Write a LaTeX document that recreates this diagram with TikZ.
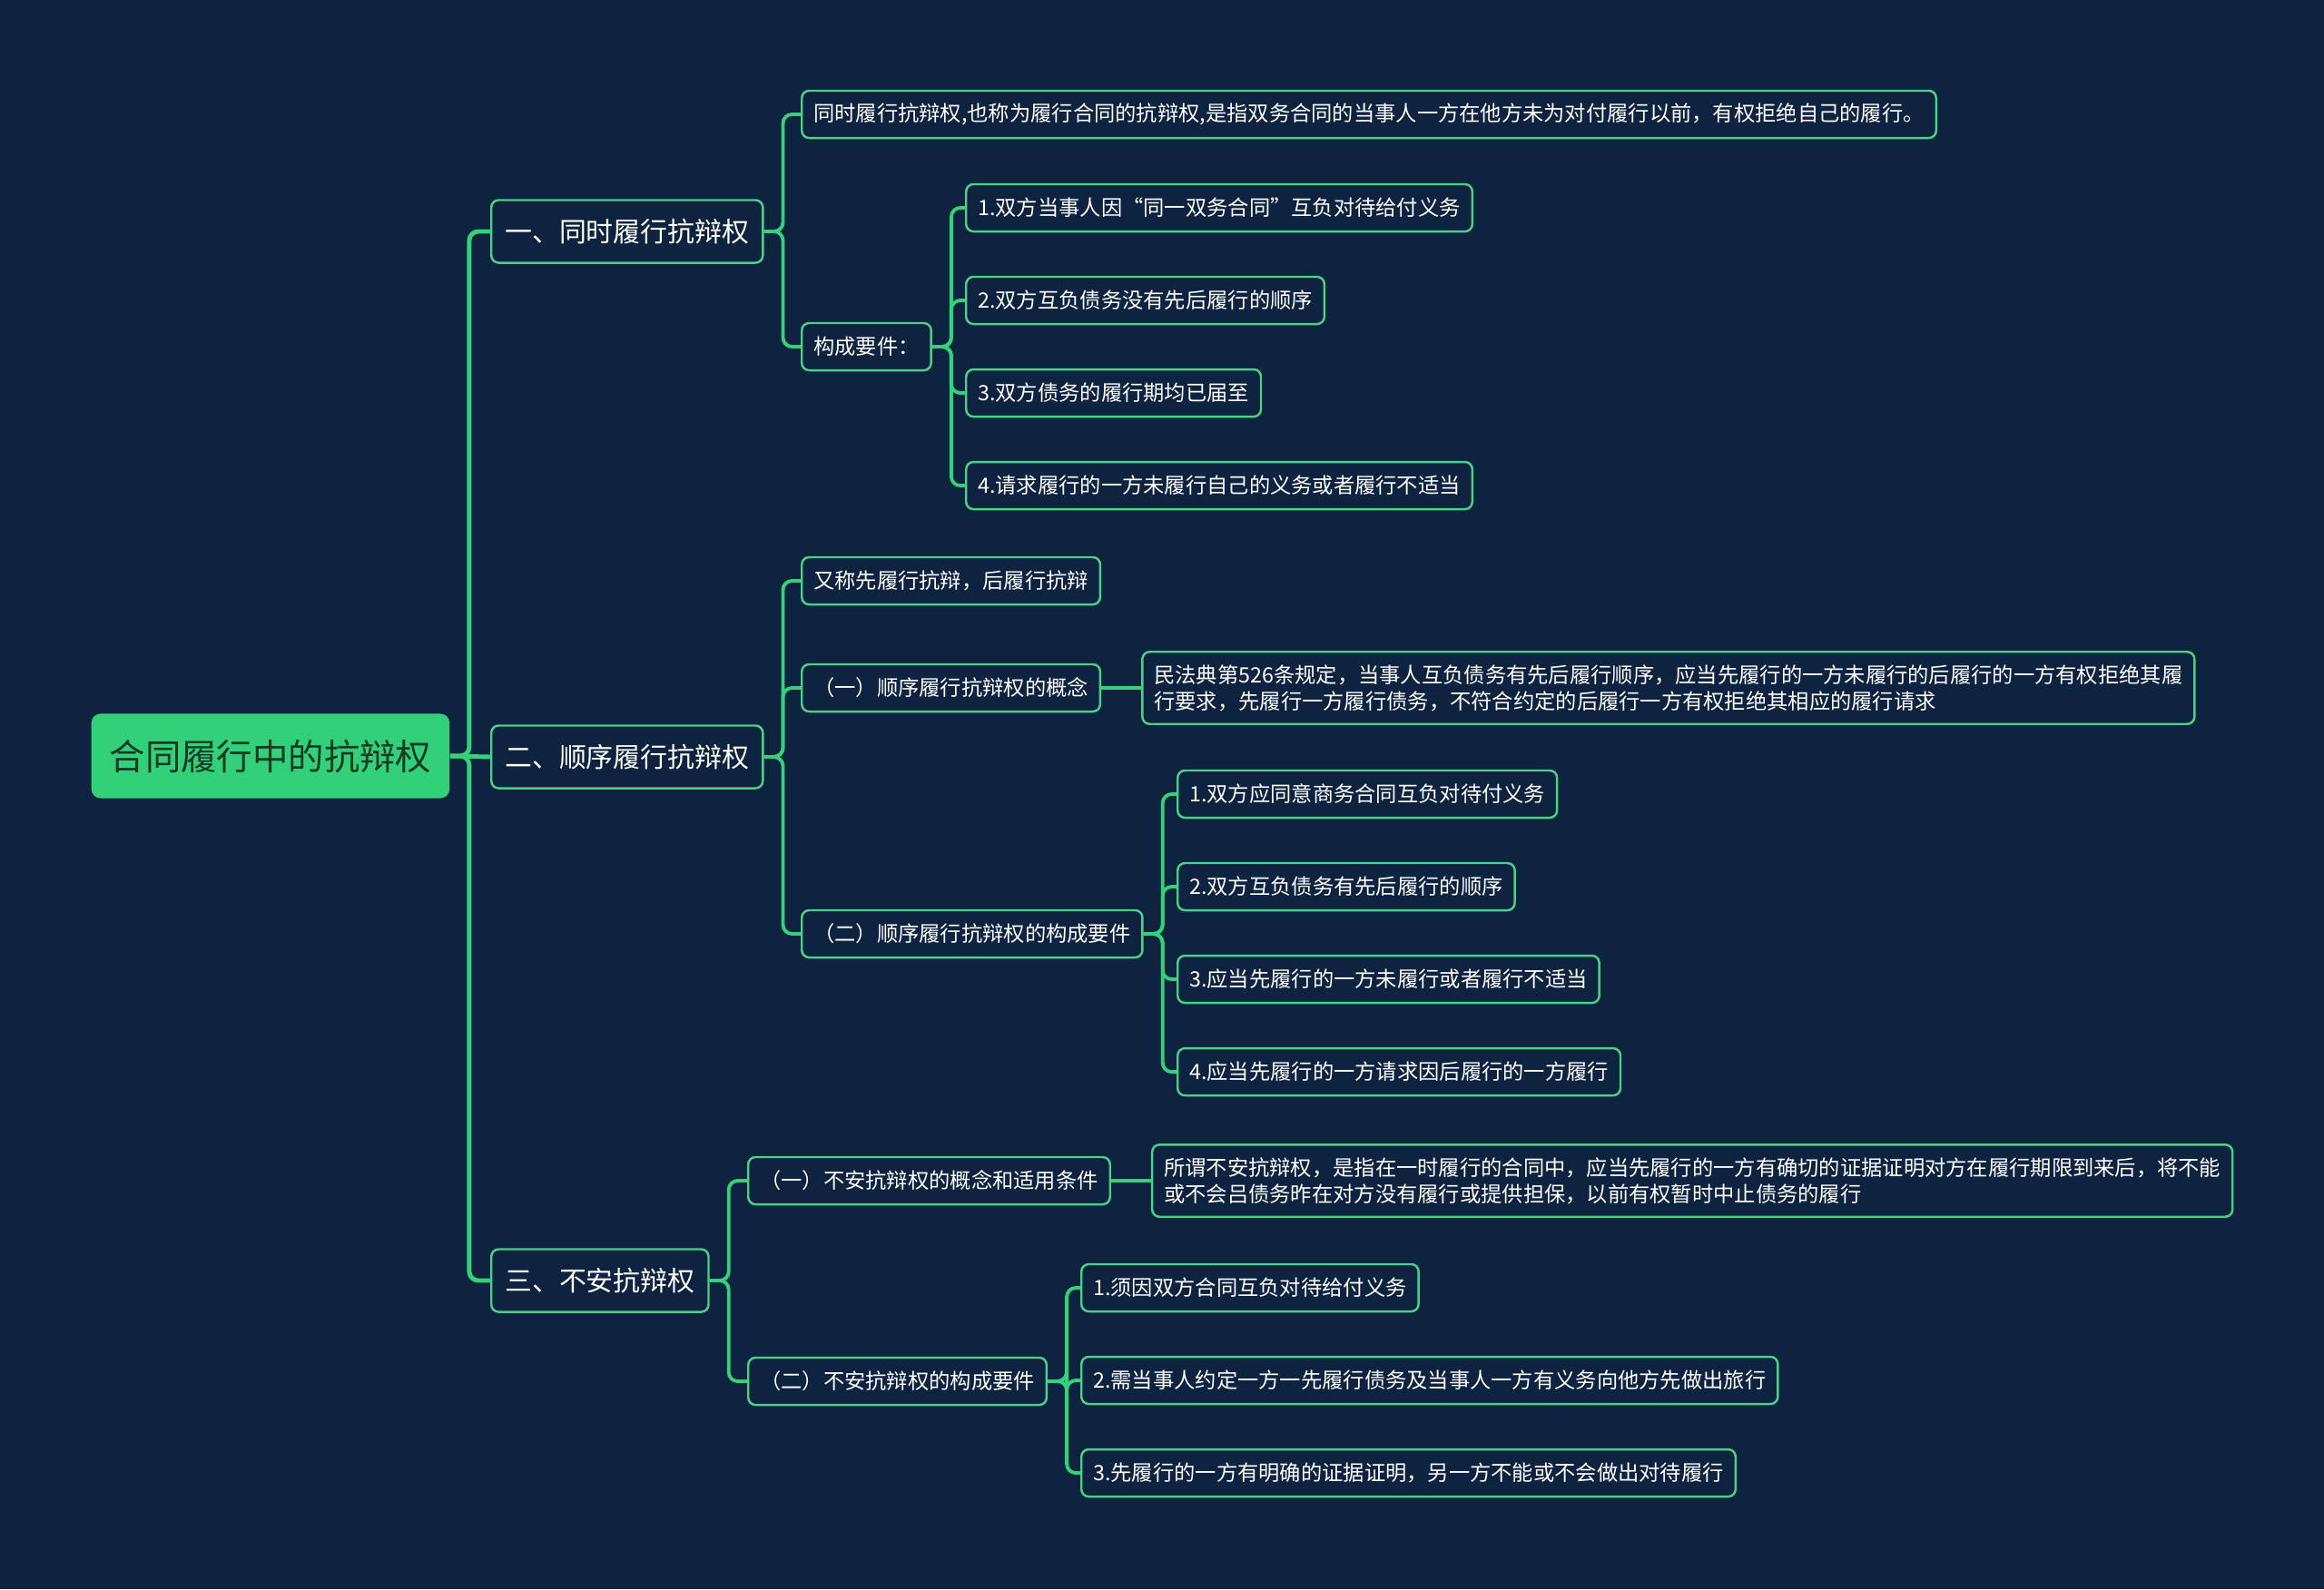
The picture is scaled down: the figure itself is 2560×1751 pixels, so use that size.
\documentclass[tikz,border=0pt]{standalone}
\usepackage{fontspec}
\setmainfont{Noto Sans CJK SC}
\usetikzlibrary{positioning}

\definecolor{bgnavy}{HTML}{0D2340}
\definecolor{branchgreen}{HTML}{33D17A}
\definecolor{edgegreen}{HTML}{4CCF86}
\definecolor{rootgreen}{HTML}{33D07A}
\definecolor{roottext}{HTML}{163A24}

\begin{document}
\begin{tikzpicture}[
  x=0.01cm, y=-0.01cm,
  font=\fontsize{6.62}{8.3}\selectfont,
  node distance=4.75mm and 4.4mm,
  box/.style={draw=edgegreen, line width=0.7pt, fill=bgnavy, text=white, rounded corners=0.8mm},
  rootbox/.style={fill=rootgreen, text=roottext, rounded corners=1mm, minimum height=0.93cm, inner xsep=0.2cm, anchor=west, font=\fontsize{11.2}{13}\selectfont},
  topic/.style={box, minimum height=0.69cm, inner xsep=0.15cm, anchor=west, font=\fontsize{8.5}{10}\selectfont},
  leaf/.style={box, minimum height=0.52cm, inner xsep=0.13cm, anchor=west},
  note/.style={box, align=left, inner xsep=0.13cm, inner ysep=0.14cm, anchor=west},
  trunk/.style={draw=branchgreen, line width=1.4pt, rounded corners=1mm},
  twig/.style={draw=branchgreen, line width=1.1pt, rounded corners=1mm}
]
  \useasboundingbox[fill=bgnavy] (0,0) rectangle (2560,1751);

  \node[rootbox] (root) at (100,833) {合同履行中的抗辩权};

  \node[topic] (simul) at (540,255) {一、同时履行抗辩权};
  \node[topic] (order) at (540,834) {二、顺序履行抗辩权};
  \node[topic] (unsafe) at (540,1411) {三、不安抗辩权};

  % 一
  \node[leaf] (simuldef) at (882,126) {同时履行抗辩权,也称为履行合同的抗辩权,是指双务合同的当事人一方在他方未为对付履行以前，有权拒绝自己的履行。};
  \node[leaf] (simulreq) at (882,382) {构成要件：};
  \node[leaf] (sr1) at (1063,229) {1.双方当事人因“同一双务合同”互负对待给付义务};
  \node[leaf, below=of sr1.south west, anchor=north west] (sr2) {2.双方互负债务没有先后履行的顺序};
  \node[leaf, below=of sr2.south west, anchor=north west] (sr3) {3.双方债务的履行期均已届至};
  \node[leaf, below=of sr3.south west, anchor=north west] (sr4) {4.请求履行的一方未履行自己的义务或者履行不适当};

  % 二
  \node[leaf] (ordalias) at (882,640) {又称先履行抗辩，后履行抗辩};
  \node[leaf] (ordconcept) at (882,758) {（一）顺序履行抗辩权的概念};
  \node[note, right=of ordconcept] (ordnote) {民法典第526条规定，当事人互负债务有先后履行顺序，应当先履行的一方未履行的后履行的一方有权拒绝其履\\行要求，先履行一方履行债务，不符合约定的后履行一方有权拒绝其相应的履行请求};
  \node[leaf] (ordreq) at (882,1029) {（二）顺序履行抗辩权的构成要件};
  \node[leaf] (or1) at (1296,875) {1.双方应同意商务合同互负对待付义务};
  \node[leaf, below=of or1.south west, anchor=north west] (or2) {2.双方互负债务有先后履行的顺序};
  \node[leaf, below=of or2.south west, anchor=north west] (or3) {3.应当先履行的一方未履行或者履行不适当};
  \node[leaf, below=of or3.south west, anchor=north west] (or4) {4.应当先履行的一方请求因后履行的一方履行};

  % 三
  \node[leaf] (unconcept) at (823,1301) {（一）不安抗辩权的概念和适用条件};
  \node[note, right=of unconcept] (unnote) {所谓不安抗辩权，是指在一时履行的合同中，应当先履行的一方有确切的证据证明对方在履行期限到来后，将不能\\或不会吕债务昨在对方没有履行或提供担保，以前有权暂时中止债务的履行};
  \node[leaf] (unreq) at (823,1522) {（二）不安抗辩权的构成要件};
  \node[leaf] (ur1) at (1190,1419) {1.须因双方合同互负对待给付义务};
  \node[leaf, below=of ur1.south west, anchor=north west] (ur2) {2.需当事人约定一方一先履行债务及当事人一方有义务向他方先做出旅行};
  \node[leaf, below=of ur2.south west, anchor=north west] (ur3) {3.先履行的一方有明确的证据证明，另一方不能或不会做出对待履行};

  % connectors
  \draw[trunk] (root.east) -- ++(21,0) |- (simul.west);
  \draw[trunk] (root.east) -- (order.west);
  \draw[trunk] (root.east) -- ++(21,0) |- (unsafe.west);

  \foreach \kid in {simuldef, simulreq} \draw[twig] (simul.east) -- ++(21,0) |- (\kid.west);
  \foreach \kid in {sr1, sr2, sr3, sr4} \draw[twig] (simulreq.east) -- ++(21,0) |- (\kid.west);

  \foreach \kid in {ordalias, ordconcept, ordreq} \draw[twig] (order.east) -- ++(21,0) |- (\kid.west);
  \draw[twig] (ordconcept.east) -- (ordnote.west);
  \foreach \kid in {or1, or2, or3, or4} \draw[twig] (ordreq.east) -- ++(21,0) |- (\kid.west);

  \foreach \kid in {unconcept, unreq} \draw[twig] (unsafe.east) -- ++(21,0) |- (\kid.west);
  \draw[twig] (unconcept.east) -- (unnote.west);
  \foreach \kid in {ur1, ur2, ur3} \draw[twig] (unreq.east) -- ++(21,0) |- (\kid.west);
\end{tikzpicture}
\end{document}
